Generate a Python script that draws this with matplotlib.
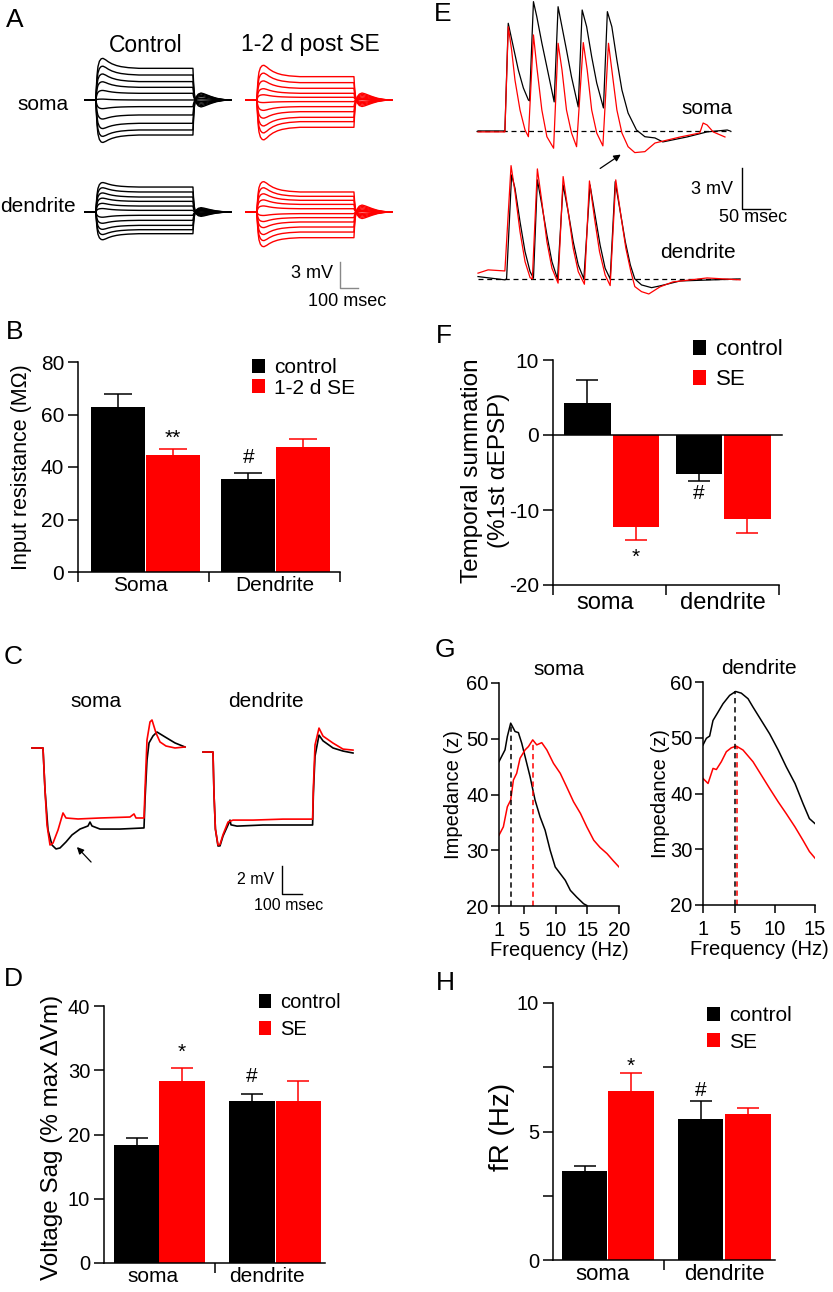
import matplotlib.pyplot as plt

plt.rcParams['font.family'] = ['Liberation Sans', 'DejaVu Sans']
plt.rcParams['axes.linewidth'] = 1.1

# ---------------- data ----------------
# A: step responses (mV) - steady level, initial peak / sag, rebound after the step
a_ctrl_soma_ss = [3.65, 2.88, 2.12, 1.46, 0.77, 0.0, -0.77, -1.73, -2.69, -3.46, -4.04]
a_ctrl_soma_pk = [4.8, 3.9, 3.0, 2.1, 1.1, 0.1, -1.0, -2.2, -3.3, -4.2, -4.9]
a_ctrl_soma_rb = [-0.8, -0.65, -0.5, -0.35, -0.2, 0.0, 0.2, 0.4, 0.55, 0.7, 0.8]
a_se_soma_ss = [2.69, 2.0, 1.35, 0.77, 0.31, -0.19, -0.77, -1.35, -2.0, -2.5, -3.15]
a_se_soma_pk = [4.0, 3.1, 2.2, 1.3, 0.6, -0.3, -1.2, -2.1, -3.0, -3.8, -4.6]
a_se_soma_rb = [-0.75, -0.6, -0.45, -0.3, -0.15, 0.05, 0.2, 0.35, 0.5, 0.65, 0.8]
a_ctrl_dend_ss = [2.88, 2.31, 1.73, 1.23, 0.69, 0.19, -0.38, -0.96, -1.54, -2.04, -2.5]
a_ctrl_dend_pk = [3.4, 2.8, 2.2, 1.6, 1.0, 0.4, -0.6, -1.3, -2.0, -2.6, -3.2]
a_ctrl_dend_rb = [-0.5, -0.4, -0.3, -0.2, -0.1, 0.0, 0.1, 0.2, 0.3, 0.4, 0.5]
a_se_dend_ss = [2.31, 1.81, 1.35, 0.88, 0.38, -0.19, -0.65, -1.15, -1.73, -2.31, -2.96]
a_se_dend_pk = [3.5, 2.8, 2.1, 1.4, 0.7, -0.4, -1.1, -1.8, -2.6, -3.3, -4.0]
a_se_dend_rb = [-0.75, -0.6, -0.45, -0.3, -0.15, 0.05, 0.2, 0.35, 0.5, 0.65, 0.8]

# time course of one step response (ms) and how much of each level it carries
tpl_t = [0, 60, 63, 67, 72, 80, 90, 100, 115, 130, 150, 175, 200, 240, 300, 600, 603, 607,
         612, 620, 630, 645, 660, 680, 700, 730, 760, 790, 810]
tpl_ss = [0, 0, 0, 0, 0, 0, 0, 0, 0.15, 0.35, 0.55, 0.72, 0.83, 0.93, 1, 1, 0.6, 0.25,
          0.05, 0, 0, 0, 0, 0, 0, 0, 0, 0, 0]
tpl_pk = [0, 0, 0.3, 0.6, 0.8, 0.93, 0.99, 1, 0.85, 0.65, 0.45, 0.28, 0.17, 0.07, 0, 0, 0, 0,
          0, 0, 0, 0, 0, 0, 0, 0, 0, 0, 0]
tpl_rb = [0, 0, 0, 0, 0, 0, 0, 0, 0, 0, 0, 0, 0, 0, 0, 0, 0, 0,
          0.1, 0.5, 0.85, 1, 0.9, 0.7, 0.5, 0.25, 0.1, 0, 0]

# B: input resistance (MOhm): control soma, SE soma, control dendrite, SE dendrite
rin_mean = [62.7, 44.6, 35.6, 47.7]
rin_sem = [5.1, 2.1, 2.0, 3.1]

# C: sag traces (ms, mV)
c_soma_ctrl_t = [0, 55, 65, 80, 100, 120, 140, 170, 200, 240, 280, 290, 300, 340, 440, 560,
                 565, 575, 585, 605, 625, 665, 715, 765]
c_soma_ctrl_v = [0, 0, -3.0, -5.86, -6.93, -7.21, -7.14, -6.71, -6.21, -5.79, -5.57, -5.29,
                 -5.57, -5.79, -5.79, -5.71, -3.71, -0.86, 0.36, 0.86, 1.14, 0.79, 0.36, 0.07]
c_soma_se_t = [0, 55, 65, 75, 90, 105, 130, 155, 170, 230, 340, 490, 510, 520, 560, 565,
               575, 590, 600, 620, 640, 670, 715, 765]
c_soma_se_v = [0, 0, -3.0, -5.5, -6.93, -6.79, -5.86, -4.64, -5.0, -5.07, -5.0, -4.93, -4.71,
               -5.0, -5.0, -3.0, 0.57, 1.86, 2.0, 1.07, 0.43, 0.14, 0, 0.07]
c_dend_ctrl_t = [0, 50, 55, 62, 75, 85, 100, 125, 135, 140, 170, 300, 548, 552, 560, 580,
                 600, 650, 700, 750]
c_dend_ctrl_v = [0, 0, -3, -5.5, -6.71, -6.7, -6.0, -5.21, -4.86, -5.2, -5.29, -5.21, -5.21,
                 -2.9, -0.3, 1.21, 0.8, 0.29, 0.07, -0.07]
c_dend_se_t = [0, 50, 55, 62, 75, 85, 100, 125, 150, 250, 400, 548, 552, 560, 580, 600,
               650, 700, 750]
c_dend_se_v = [0, 0, -3, -5.5, -6.64, -6.6, -5.9, -5.0, -4.86, -4.86, -4.79, -4.79, -2.5,
               0.5, 1.71, 1.14, 0.64, 0.21, 0.14]

# D: voltage sag (% max dVm)
sag_mean = [18.4, 28.3, 25.2, 25.2]
sag_sem = [1.1, 2.1, 1.1, 3.1]

# E: EPSP trains (ms, mV)
e_soma_ctrl_t = [0, 48, 54, 63, 72, 81, 90, 92, 99, 105, 114, 123, 136, 143, 158, 167, 179,
                 186, 194, 203, 212, 224, 231, 239, 248, 257, 268, 283, 298, 316, 330, 373,
                 409, 445, 450]
e_soma_ctrl_v = [0, 0, 7.86, 6.15, 4.45, 3.14, 2.26, 2.2, 9.44, 8.34, 6.42, 4.67, 2.12, 9.07,
                 5.91, 3.94, 1.75, 8.83, 7.61, 5.42, 3.5, 1.68, 8.71, 7.61, 5.18, 2.99, 1.31,
                 0.07, -0.42, -0.51, -0.8, -0.44, -0.07, 0.07, 0]
e_soma_se_t = [0, 48, 54, 60, 66, 75, 84, 90, 99, 105, 114, 123, 135, 143, 150, 158, 167, 176,
               188, 195, 203, 212, 223, 233, 239, 248, 257, 268, 280, 298, 316, 361, 396, 402,
               409, 420, 441]
e_soma_se_v = [-0.07, -0.07, 7.61, 5.91, 3.72, 1.53, 0.07, -0.42, 7.01, 4.69, 1.53, -0.42,
               -1.26, 6.4, 4.45, 1.53, -0.15, -1.15, 6.45, 4.45, 1.53, -0.15, -1.09, 6.4,
               4.45, 1.53, -0.15, -1.15, -1.58, -1.51, -0.88, -0.44, -0.15, 0.58, 0.44,
               -0.07, -0.44]
e_dend_ctrl_t = [0, 48, 51, 60, 66, 75, 84, 93, 99, 106, 114, 123, 132, 142, 152, 161, 170,
                 179, 189, 200, 209, 218, 227, 236, 245, 254, 263, 272, 280, 292, 310, 325,
                 361, 468]
e_dend_ctrl_v = [0.17, -0.07, 0, 7.59, 6.62, 4.18, 1.99, 0.53, 0.05, 7.23, 5.4, 3.21, 1.26, 0,
                 6.86, 4.91, 2.72, 1.02, 0, 6.86, 4.67, 2.48, 0.78, 0, 7.1, 4.91, 2.72, 1.02,
                 0, -0.44, -0.64, -0.51, -0.15, 0]
e_dend_se_t = [0, 18, 48, 59, 66, 75, 84, 93, 97, 106, 114, 123, 132, 143, 152, 161, 170, 179,
               190, 199, 208, 217, 227, 236, 246, 255, 264, 273, 280, 292, 305, 325, 348, 409,
               468]
e_dend_se_v = [0.42, 0.66, 0.58, 8.27, 6.37, 3.45, 1.26, 0.09, 0, 8.03, 5.64, 2.72, 0.78,
               -0.31, 7.47, 4.91, 2.24, 0.53, -0.39, 7.15, 4.43, 1.99, 0.29, -0.49, 7.23, 4.67,
               2.24, 0.53, -0.56, -0.93, -1.1, -0.58, -0.22, 0.07, -0.07]

# F: temporal summation (% of 1st alpha EPSP)
ts_mean = [4.25, -12.2, -5.2, -11.2]
ts_sem = [3.05, 1.8, 0.9, 1.8]

# G: impedance profiles (Hz, z)
g_soma_f_ctrl = [1, 1.95, 2.32, 2.85, 3.54, 4.07, 4.6, 5.13, 5.92, 6.71, 7.5, 8.3, 9.1, 9.9,
                 10.7, 11.5, 12.3, 13.3, 14.4, 14.9]
g_soma_z_ctrl = [45.9, 48.0, 50.4, 52.8, 51.3, 51.1, 49.2, 46.8, 43.2, 39.0, 36.0, 33.6, 30.0,
                 27.0, 25.8, 24.6, 22.8, 21.6, 20.4, 20.1]
g_soma_f_se = [1, 1.69, 2.32, 2.85, 3.28, 3.8, 4.33, 5.13, 5.66, 6.34, 6.98, 7.77, 8.57, 9.62,
               10.7, 11.7, 12.8, 13.9, 14.9, 16.0, 17.0, 18.1, 19.1, 20.0]
g_soma_z_se = [32.7, 34.2, 37.8, 39.0, 42.6, 43.8, 46.5, 48.0, 48.6, 49.8, 48.9, 49.3, 48.0,
               45.6, 43.8, 41.4, 38.7, 36.6, 34.2, 31.8, 30.5, 29.4, 28.1, 27.0]
g_dend_f_ctrl = [1, 1.42, 1.83, 2.25, 2.88, 3.5, 4.33, 5.08, 5.79, 6.63, 7.25, 8.29, 9.33,
                 10.4, 11.4, 12.5, 13.5, 14.3, 15]
g_dend_z_ctrl = [48.7, 49.9, 50.3, 53.1, 54.6, 56.1, 57.6, 58.3, 58.0, 57.0, 55.5, 53.1, 50.7,
                 47.8, 44.8, 41.8, 38.2, 35.5, 34.6]
g_dend_f_se = [1, 1.63, 2.25, 2.67, 3.29, 3.92, 4.54, 5.17, 6.0, 7.25, 8.29, 9.33, 10.4, 11.4,
               12.5, 13.5, 14.3, 15]
g_dend_z_se = [42.7, 41.8, 44.5, 44.3, 45.7, 47.5, 48.2, 48.5, 47.8, 45.7, 43.3, 40.9, 38.5,
               36.4, 34.0, 31.6, 29.6, 28.4]
g_soma_peak_f = [2.85, 6.34]
g_soma_peak_z = [52.8, 49.8]
g_dend_peak_f = [5.0, 5.3]
g_dend_peak_z = [58.3, 48.5]

# H: resonance frequency (Hz)
fr_mean = [3.46, 6.57, 5.47, 5.68]
fr_sem = [0.2, 0.71, 0.72, 0.22]

# ---------------- figure ----------------
W, H = 833, 1292
fig = plt.figure(figsize=(W / 100, H / 100), dpi=100)
BLK, RED = 'black', '#ff0000'


def px_axes(x0, y0, x1, y1):
    return fig.add_axes([x0 / W, 1 - y1 / H, (x1 - x0) / W, (y1 - y0) / H])


def ftext(x, y, s, size=15, ha='center', **kw):
    fig.text(x / W, 1 - y / H, s, fontsize=size, ha=ha, va='center', **kw)


def bar_panel(ax, means, sems, centers, ylim, yticks, yticklabels, xticks,
              group_pos, groups, tick_fs, group_fs, capsize=8, group_pad=3):
    cols = [BLK, RED, BLK, RED]
    bars = []
    for c, m, s, col in zip(centers, means, sems, cols):
        bars.append(ax.bar(c, m, 0.41, color=col, linewidth=0))
        yerr = [[0], [s]] if m >= 0 else [[s], [0]]
        eb = ax.errorbar(c, m, yerr=yerr, color=col, capsize=capsize, elinewidth=1.1,
                         capthick=1.1, fmt='none')
        # only the cap at the far end of the error bar is shown
        for cap in eb[1]:
            if abs(cap.get_ydata()[0] - m) < 1e-9:
                cap.set_visible(False)
    ax.set_xlim(0, 2)
    ax.set_ylim(*ylim)
    ax.spines[['top', 'right']].set_visible(False)
    ax.set_yticks(yticks, yticklabels)
    ax.set_xticks(xticks, [''] * len(xticks))
    ax.set_xticks(group_pos, groups, minor=True)
    ax.tick_params(axis='y', direction='out', length=7, width=1.1, pad=3, labelsize=tick_fs)
    ax.tick_params(axis='x', which='major', direction='out', length=7, width=1.1)
    ax.tick_params(axis='x', which='minor', length=0, pad=group_pad, labelsize=group_fs)
    return bars


def legend(ax, bars, labels, x, y, fs, spacing):
    ax.legend([bars[0], bars[1]], labels, loc='upper left', bbox_to_anchor=(x / W, 1 - y / H),
              bbox_transform=fig.transFigure, frameon=False, fontsize=fs, handlelength=0.6,
              handleheight=0.65, handletextpad=0.45, labelspacing=spacing, borderpad=0,
              borderaxespad=0)


# ---- A: step families ----
axA = px_axes(80, 30, 400, 310)
axA.set_xlim(-27.8, 1751)
axA.set_ylim(-24.22, 8.07)
axA.axis('off')


def step_family(ax, t0, base, ss, pk, rb, color):
    for s, p, r in zip(ss, pk, rb):
        t = [t0 + x for x in tpl_t]
        v = [base + s * a + p * b + r * c for a, b, c in zip(tpl_ss, tpl_pk, tpl_rb)]
        ax.plot(t, v, color=color, lw=1.0)


dend_off_a = -12.92
step_family(axA, 0, 0, a_ctrl_soma_ss, a_ctrl_soma_pk, a_ctrl_soma_rb, BLK)
step_family(axA, 895, 0, a_se_soma_ss, a_se_soma_pk, a_se_soma_rb, RED)
step_family(axA, 0, dend_off_a, a_ctrl_dend_ss, a_ctrl_dend_pk, a_ctrl_dend_rb, BLK)
step_family(axA, 895, dend_off_a, a_se_dend_ss, a_se_dend_pk, a_se_dend_rb, RED)
axA.plot([1418, 1418, 1518], [-18.7, -21.7, -21.7], color='#888888', lw=1.0)
ftext(15, 20, 'A', size=19)
ftext(146, 45, 'Control', size=16.5)
ftext(310, 45, '1-2 d post SE', size=16.5)
ftext(43, 105, 'soma', size=15)
ftext(38, 207, 'dendrite', size=15)
ftext(333, 274, '3 mV', size=13, ha='right')
ftext(347, 301, '100 msec', size=13)

# ---- B ----
axB = px_axes(78, 362, 340, 572)
bB = bar_panel(axB, rin_mean, rin_sem, [0.304, 0.723, 1.30, 1.72], (0, 80),
               [0, 20, 40, 60, 80], ['0', '20', '40', '60', '80'], [0, 1, 2],
               [0.477, 1.5], ['Soma', 'Dendrite'], 15, 15, capsize=10)
axB.set_ylabel('Input resistance (MΩ)', fontsize=15.5, va='center')
axB.yaxis.set_label_coords(-0.215, 0.5)
axB.text(0.723, 51.0, '**', ha='center', va='center', fontsize=15)
axB.text(1.30, 43.5, '#', ha='center', va='center', fontsize=15)
legend(axB, bB, ['control', '1-2 d SE'], 252, 358, 15, 0.08)
ftext(15, 332, 'B', size=19)

# ---- C: sag traces ----
axC = px_axes(25, 690, 360, 910)
axC.set_xlim(-35, 1640)
axC.set_ylim(-11.57, 4.14)
axC.axis('off')
dend_t0, dend_v0 = 855, -0.29
axC.plot(c_soma_ctrl_t, c_soma_ctrl_v, color=BLK, lw=1.2)
axC.plot(c_soma_se_t, c_soma_se_v, color=RED, lw=1.2)
axC.plot([dend_t0 + t for t in c_dend_ctrl_t], [dend_v0 + v for v in c_dend_ctrl_v],
         color=BLK, lw=1.2)
axC.plot([dend_t0 + t for t in c_dend_se_t], [dend_v0 + v for v in c_dend_se_v],
         color=RED, lw=1.2)
axC.plot([1250, 1250, 1350], [-8.43, -10.43, -10.43], color=BLK, lw=1.0)
axC.annotate('', xy=(215, -6.93), xytext=(305, -8.29),
             arrowprops=dict(arrowstyle='-|>', color=BLK, lw=0.9, mutation_scale=10))
ftext(13, 657, 'C', size=19)
ftext(96, 701, 'soma', size=15)
ftext(266, 701, 'dendrite', size=15)
ftext(274, 879, '2 mV', size=11.5, ha='right')
ftext(289, 905, '100 msec', size=11.5)

# ---- D ----
axD = px_axes(104, 1006, 325, 1263)
bD = bar_panel(axD, sag_mean, sag_sem, [0.295, 0.706, 1.339, 1.76], (0, 40),
               [0, 10, 20, 30, 40], ['0', '10', '20', '30', '40'], [1],
               [0.443, 1.475], ['soma', 'dendrite'], 14.5, 15)
axD.set_ylabel('Voltage Sag (% max ΔVm)', fontsize=17.5, va='center')
axD.yaxis.set_label_coords(-0.235, 0.49)
axD.text(0.706, 32.8, '*', ha='center', va='center', fontsize=15)
axD.text(1.339, 29.0, '#', ha='center', va='center', fontsize=15)
legend(axD, bD, ['control', 'SE'], 259, 993, 14.5, 0.39)
ftext(13, 979, 'D', size=19)

# ---- E: EPSP trains ----
axE = px_axes(470, 0, 800, 300)
axE.set_xlim(-14.3, 575)
axE.set_ylim(-12.34, 9.56)
axE.axis('off')
dend_off_e = -10.8
axE.plot([-3.6, 452], [0, 0], color=BLK, lw=0.9, ls=(0, (4, 3)))
axE.plot([0, 468], [dend_off_e, dend_off_e], color=BLK, lw=0.9, ls=(0, (4, 3)))
axE.plot(e_soma_ctrl_t, e_soma_ctrl_v, color=BLK, lw=0.9)
axE.plot(e_soma_se_t, e_soma_se_v, color=RED, lw=0.9)
axE.plot(e_dend_ctrl_t, [dend_off_e + v for v in e_dend_ctrl_v], color=BLK, lw=0.9)
axE.plot(e_dend_se_t, [dend_off_e + v for v in e_dend_se_v], color=RED, lw=0.9)
axE.plot([471.5, 471.5, 521.5], [-2.69, -5.69, -5.69], color=BLK, lw=1.0)
axE.annotate('', xy=(259, -1.61), xytext=(214, -2.85),
             arrowprops=dict(arrowstyle='-|>', color=BLK, lw=0.9, mutation_scale=10))
ftext(443, 14, 'E', size=19)
ftext(707, 108, 'soma', size=15)
ftext(698, 252, 'dendrite', size=15)
ftext(733, 190, '3 mV', size=13, ha='right')
ftext(753, 218, '50 msec', size=13)

# ---- F ----
axF = px_axes(553, 360, 779, 585)
bF = bar_panel(axF, ts_mean, ts_sem, [0.305, 0.735, 1.292, 1.721], (-20, 10),
               [-20, -10, 0, 10], ['-20', '-10', '0', '10'], [0, 1, 2],
               [0.46, 1.5], ['soma', 'dendrite'], 15, 17, group_pad=5)
axF.axhline(0, xmin=0, xmax=1.013, color=BLK, lw=1.1, clip_on=False)
axF.set_ylabel('Temporal summation\n(%1st αEPSP)', fontsize=17.5, va='center',
               linespacing=1.3)
axF.yaxis.set_label_coords(-0.30, 0.51)
axF.text(0.735, -16.3, '*', ha='center', va='center', fontsize=15)
axF.text(1.292, -7.8, '#', ha='center', va='center', fontsize=15)
legend(axF, bF, ['control', 'SE'], 693, 339, 16, 0.42)
ftext(444, 336, 'F', size=19)

# ---- G: impedance ----
axG1 = px_axes(499, 683, 619, 906)
axG2 = px_axes(703, 682, 815, 905)
for ax, fc, zc, fs_, zs, pf, pz, xl, xt, ttl in [
        (axG1, g_soma_f_ctrl, g_soma_z_ctrl, g_soma_f_se, g_soma_z_se, g_soma_peak_f,
         g_soma_peak_z, (1, 20), [1, 5, 10, 15, 20], 'soma'),
        (axG2, g_dend_f_ctrl, g_dend_z_ctrl, g_dend_f_se, g_dend_z_se, g_dend_peak_f,
         g_dend_peak_z, (1, 15), [1, 5, 10, 15], 'dendrite')]:
    ax.plot(fc, zc, color=BLK, lw=1.1)
    ax.plot(fs_, zs, color=RED, lw=1.1)
    ax.plot([pf[0], pf[0]], [20, pz[0]], color=BLK, lw=1.1, ls=(0, (3.5, 2.5)))
    ax.plot([pf[1], pf[1]], [20, pz[1]], color=RED, lw=1.1, ls=(0, (3.5, 2.5)))
    ax.set_xlim(*xl)
    ax.set_ylim(20, 60)
    ax.set_xticks(xt, [str(v) for v in xt])
    ax.set_yticks([20, 30, 40, 50, 60], ['20', '30', '40', '50', '60'])
    ax.spines[['top', 'right']].set_visible(False)
    ax.tick_params(axis='y', direction='out', length=6, width=1.1, pad=1.5, labelsize=14.5)
    ax.tick_params(axis='x', direction='out', length=6, width=1.1, pad=4.5, labelsize=14.5)
    ax.set_xlabel('Frequency (Hz)', fontsize=14.5, labelpad=1)
    ax.set_ylabel('Impedance (z)', fontsize=14.5, va='center')
    ax.yaxis.set_label_coords(-0.38, 0.5)
    ax.set_title(ttl, fontsize=15, pad=6)
ftext(445, 650, 'G', size=19)

# ---- H ----
axH = px_axes(553, 1003, 775, 1260)
bH = bar_panel(axH, fr_mean, fr_sem, [0.284, 0.703, 1.329, 1.757], (0, 10),
               [0, 2.5, 5, 7.5, 10], ['0', '', '5', '', '10'], [1],
               [0.45, 1.54], ['soma', 'dendrite'], 14.5, 16)
axH.set_ylabel('fR (Hz)', fontsize=20, va='center')
axH.yaxis.set_label_coords(-0.23, 0.517)
axH.text(0.703, 7.55, '*', ha='center', va='center', fontsize=15)
axH.text(1.329, 6.6, '#', ha='center', va='center', fontsize=15)
legend(axH, bH, ['control', 'SE'], 707, 1006, 15, 0.37)
ftext(445, 983, 'H', size=19)

fig.savefig('out.png', dpi=100)
